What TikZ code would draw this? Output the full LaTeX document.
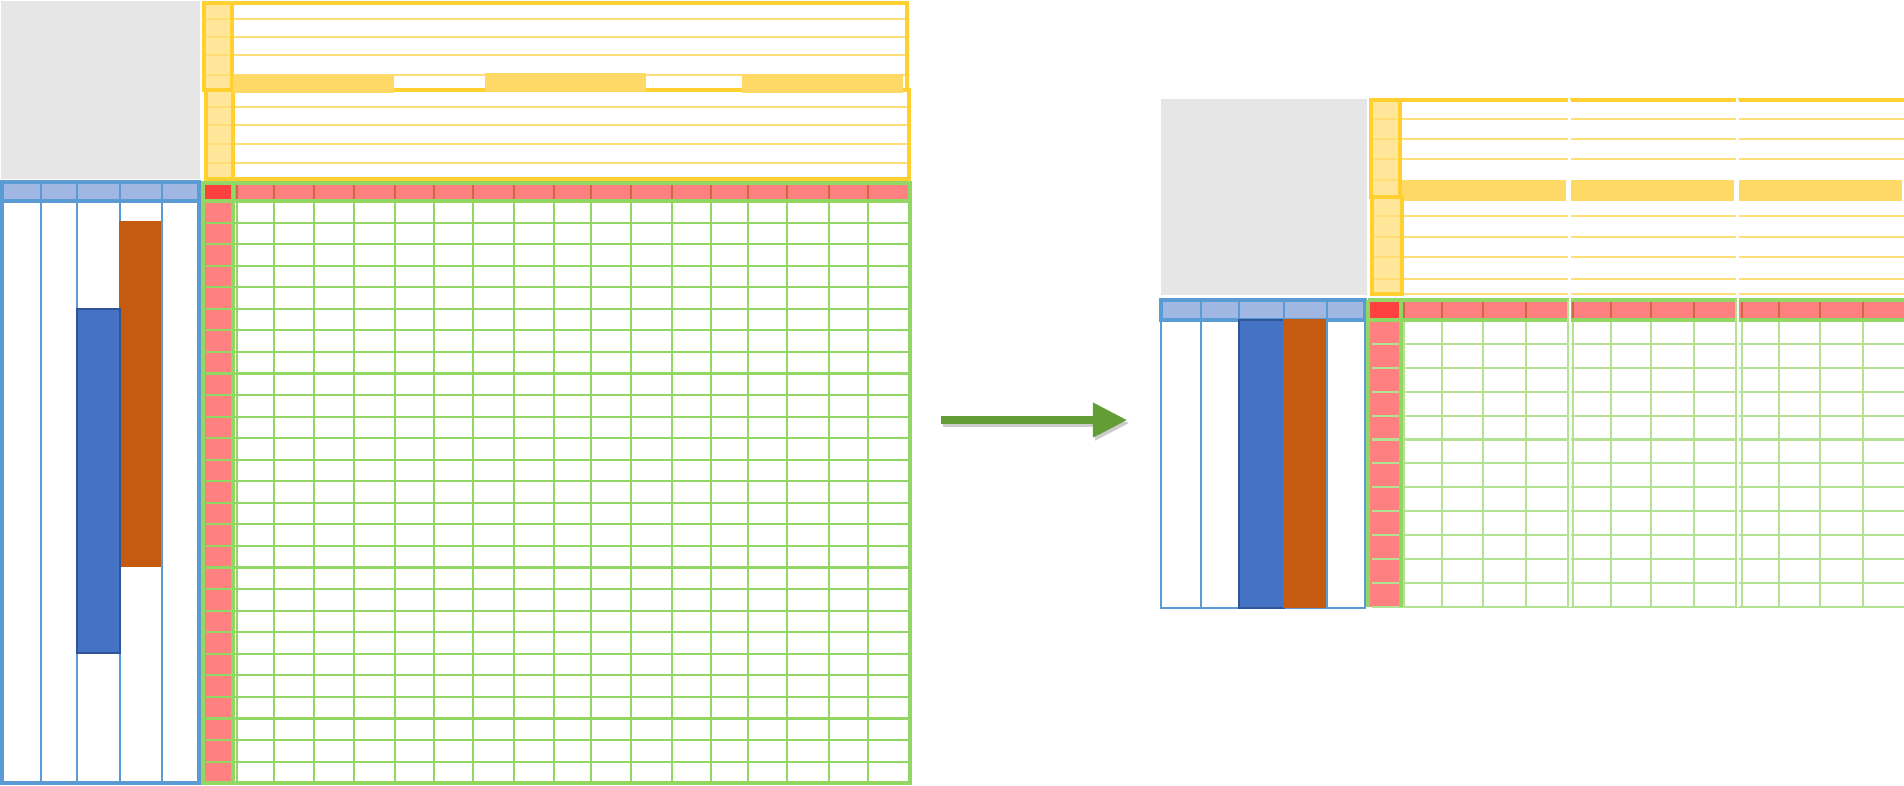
\documentclass[tikz,border=0pt]{standalone}
\usepackage{tikz}
\usetikzlibrary{arrows.meta}
\definecolor{cornergray}{RGB}{230,230,230}
\definecolor{goldline}{RGB}{255,208,47}
\definecolor{goldfill}{RGB}{255,230,153}
\definecolor{goldbar}{RGB}{255,217,102}
\definecolor{goldrow}{RGB}{255,222,120}
\definecolor{blueline}{RGB}{91,155,213}
\definecolor{bluehead}{RGB}{160,184,225}
\definecolor{bluebar}{RGB}{68,114,196}
\definecolor{bluebarline}{RGB}{47,85,151}
\definecolor{orangebar}{RGB}{197,90,17}
\definecolor{redfill}{RGB}{255,128,128}
\definecolor{redcorner}{RGB}{255,64,64}
\definecolor{redsep}{RGB}{205,105,70}
\definecolor{gridgreen}{RGB}{146,214,100}
\definecolor{arrowgreen}{RGB}{99,157,54}

\begin{document}
\begin{tikzpicture}[x=0.01cm, y=-0.01cm,
    goldframe/.style={draw=goldline, line width=1pt},
    goldrule/.style={draw=goldrow, line width=0.6pt},
    bluegrid/.style={draw=blueline, line width=0.5pt},
    blueframe/.style={draw=blueline, line width=1pt},
    greengrid/.style={draw=gridgreen, line width=0.6pt},
    greenfaint/.style={draw=gridgreen!70, line width=0.6pt},
    greenframe/.style={draw=gridgreen, line width=1pt},
    redsepline/.style={draw=redsep, line width=0.6pt},
    panelgap/.style={draw=white, line width=0.6pt},
    convert/.style={arrowgreen, line width=2pt, -{Triangle[length=9.7pt, width=9.4pt]}},
    convertshadow/.style={black, opacity=0.2, line width=2pt, -{Triangle[length=9.7pt, width=9.4pt]}}]
    \useasboundingbox (0,0) rectangle (1904,785);

    % ---------------- Left: before ----------------
    % Empty corner
    \fill[cornergray] (1,1) rectangle (200,179);

    % Yellow table, upper block
    \fill[goldfill] (204,3) rectangle (232,90);
    \foreach \y in {19,37,55,75} \draw[goldrule] (204,\y) -- (909,\y);
    \draw[goldframe] (204,3) rectangle (907,90);
    \draw[goldframe] (232,3) -- (232,90);
    % Yellow table, lower block
    \fill[goldfill] (206,90) rectangle (233,179);
    \foreach \y in {107,125,144,163} \draw[goldrule] (206,\y) -- (910,\y);
    \draw[goldframe] (206,90) rectangle (909,179);
    \draw[goldframe] (233,90) -- (233,179);
    % Highlighted bars
    \fill[goldbar] (233,75) rectangle (394,93);
    \fill[goldbar] (485,73) rectangle (646,92);
    \fill[goldbar] (742,74) rectangle (903,93);

    % Blue table
    \fill[bluehead] (2,182) rectangle (199,201);
    \foreach \x in {41,77,120,162} \draw[bluegrid] (\x,182) -- (\x,783);
    \draw[blueframe] (2,182) rectangle (199,783);
    \draw[blueframe] (2,201) -- (199,201);
    \filldraw[fill=orangebar, draw=orangebar] (120,222) rectangle (160,566);
    \filldraw[fill=bluebar, draw=bluebarline, line width=0.8pt] (77,309) rectangle (120,653);

    % Green grid
    \fill[redfill] (204,183) rectangle (233,783);
    \fill[redfill] (233,183) rectangle (910,201);
    \fill[redcorner] (204,183) rectangle (233,201);
    \foreach \i in {1,...,26} \draw[greengrid] (206,{201+\i*21.56}) -- (910,{201+\i*21.56});
    \foreach \x in {237,274,314,354,395,434,473,514,554,591,631,672,711,748,787,829,868} {
        \draw[greengrid] (\x,201) -- (\x,783);
        \draw[redsepline] (\x,183) -- (\x,201);
    }
    \draw[greenframe] (203,183) rectangle (910,783);
    \draw[greenframe] (233,183) -- (233,783);
    \draw[greenframe] (203,201) -- (910,201);

    % ---------------- Arrow ----------------
    \coordinate (arrowtail) at (941,420);
    \coordinate (arrowtip) at (1127,420);
    \draw[convertshadow, transform canvas={xshift=0.6pt, yshift=-0.9pt}] (arrowtail) -- (arrowtip);
    \draw[convert] (arrowtail) -- (arrowtip);

    % ---------------- Right: after ----------------
    % Empty corner
    \fill[cornergray] (1161,99) rectangle (1367,295);

    % Yellow table, split in three panels
    \fill[goldfill] (1371,100) rectangle (1401,294);
    \foreach \a/\b in {1400/1568, 1570/1736, 1738/1904} {
        \foreach \y in {119,139,159,216,237,257,279} \draw[goldrule] (\a,\y) -- (\b,\y);
        \fill[goldbar] (\a,180) rectangle ({\b-2},201);
        \draw[goldrule] (\a,294) -- (\b,294);
        \draw[goldframe] (\a,100) -- (\b,100);
    }
    \foreach \y in {119,139,159,180,216,237,257,279} \draw[goldrule] (1371,\y) -- (1400,\y);
    \draw[goldframe] (1371,100) rectangle (1400,197);
    \draw[goldframe] (1372,197) rectangle (1402,294);

    % Blue table
    \fill[bluehead] (1161,300) rectangle (1365,320);
    \foreach \x in {1201,1239,1284,1327} \draw[bluegrid] (\x,300) -- (\x,608);
    \draw[blueframe] (1161,300) rectangle (1365,320);
    \draw[bluegrid] (1161,320) -- (1161,608) -- (1365,608) -- (1365,320);
    \filldraw[fill=bluebar, draw=bluebarline, line width=0.8pt] (1239,320) rectangle (1284,608);
    \filldraw[fill=orangebar, draw=orangebar] (1284,320) rectangle (1325,607);

    % Green grid, split in three panels
    \fill[redfill] (1370,300) rectangle (1400,607);
    \fill[redfill] (1400,300) rectangle (1904,320);
    \fill[redcorner] (1370,300) rectangle (1400,320);
    \foreach \i in {1,...,12} \draw[greenfaint] (1372,{320+\i*23.9}) -- (1904,{320+\i*23.9});
    \foreach \x in {1404,1442,1483,1526,1573,1611,1651,1694,1742,1779,1820,1863} {
        \draw[greenfaint] (\x,320) -- (\x,607);
        \draw[redsepline] (\x,300) -- (\x,320);
    }
    \draw[greenframe] (1368,300) -- (1904,300);
    \draw[greenframe] (1368,320) -- (1904,320);
    \draw[greenframe] (1368,300) -- (1368,607);
    \draw[greenframe] (1401,300) -- (1401,607);
    \foreach \x in {1568,1736} \draw[greenfaint] (\x,300) -- (\x,607);
    \foreach \x in {1570,1738} \draw[panelgap] (\x,100) -- (\x,607);
\end{tikzpicture}
\end{document}
